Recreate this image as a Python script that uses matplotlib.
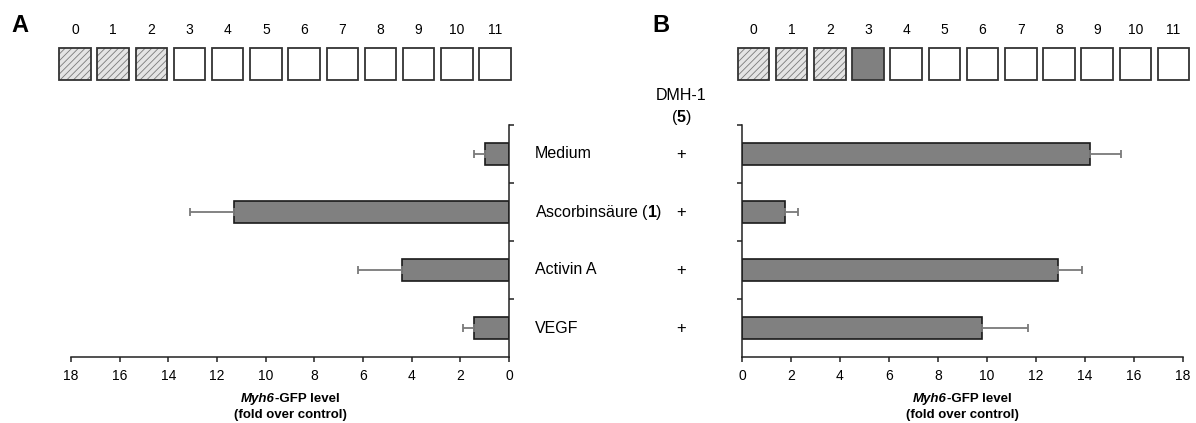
import matplotlib
matplotlib.use('Agg')
import matplotlib.pyplot as plt
from matplotlib.offsetbox import TextArea, HPacker, AnnotationBbox
from matplotlib.transforms import blended_transform_factory

plt.rcParams['font.family'] = ['Liberation Sans', 'DejaVu Sans']
plt.rcParams['mathtext.fontset'] = 'custom'
plt.rcParams['mathtext.rm'] = 'Liberation Sans'
plt.rcParams['mathtext.bf'] = 'Liberation Sans:bold'
plt.rcParams['mathtext.it'] = 'Liberation Sans:italic'
plt.rcParams['hatch.linewidth'] = 0.6

# data
categories = ['Medium', r'Ascorbinsäure ($\mathbf{1}$)', 'Activin A', 'VEGF']
fold_a = [1.0, 11.3, 4.4, 1.43]
err_a = [0.44, 1.8, 1.8, 0.46]
fold_b = [14.2, 1.75, 12.9, 9.8]
err_b = [1.25, 0.52, 0.97, 1.88]
dmh1 = ['+', '+', '+', '+']
stages = list(range(12))
stage_a = ['pre'] * 3 + ['none'] * 9
stage_b = ['pre'] * 3 + ['dmh'] + ['none'] * 8
x_ticks = list(range(0, 19, 2))

W, H = 1196, 423
fig = plt.figure(figsize=(W / 100, H / 100), dpi=100)


def px_axes(left, top, right, bottom):
    return fig.add_axes([left / W, 1 - bottom / H, (right - left) / W, (bottom - top) / H])


def draw_stages(ax, states):
    for i, s in zip(stages, states):
        if s == 'pre':
            ax.bar(i, 1, width=0.825, color='#e4e4e4', edgecolor='#7a7a7a',
                   hatch='/////', linewidth=0)
        elif s == 'dmh':
            ax.bar(i, 1, width=0.825, color='#808080', linewidth=0)
        box = ax.bar(i, 1, width=0.825, fill=False, edgecolor='#333333', linewidth=1.3)
        for p in box:
            p.set_clip_on(False)
        ax.text(i, 1.56, str(i), ha='center', va='center', fontsize=10)
    ax.set_xlim(-0.5, 11.5)
    ax.set_ylim(0, 1)
    ax.axis('off')


def draw_bars(ax, values, errs, side):
    ypos = list(range(len(values)))
    ax.barh(ypos, values, height=0.37, color='#808080', edgecolor='#1a1a1a', linewidth=1.2,
            xerr=[[0] * len(errs), errs],
            error_kw=dict(ecolor='#7a7a7a', elinewidth=1.3, capsize=3, capthick=1.3))
    ax.set_ylim(3.5, -0.5)
    ax.set_yticks([-0.5, 0.5, 1.5, 2.5])
    ax.set_yticklabels([])
    ax.set_xticks(x_ticks)
    ax.spines['top'].set_visible(False)
    if side == 'right':
        ax.set_xlim(18, 0)
        ax.spines['left'].set_visible(False)
        ax.yaxis.tick_right()
    else:
        ax.set_xlim(0, 18)
        ax.spines['right'].set_visible(False)
    for sp in ax.spines.values():
        sp.set_linewidth(1.1)
        sp.set_color('#222222')
    ax.tick_params(axis='both', direction='out', length=3.6, width=1.1, color='#222222')
    ax.tick_params(axis='x', labelsize=10, pad=5)

    t1 = TextArea('Myh6', textprops=dict(style='italic', weight='bold', size=9.5))
    t2 = TextArea('-GFP level', textprops=dict(weight='bold', size=9.5))
    line1 = HPacker(children=[t1, t2], pad=0, sep=0)
    ab = AnnotationBbox(line1, (0.5, -42 / 232), xycoords='axes fraction',
                        frameon=False, box_alignment=(0.5, 0.5))
    ax.add_artist(ab)
    ax.text(0.5, -58 / 232, '(fold over control)', transform=ax.transAxes,
            ha='center', va='center', fontsize=9.5, fontweight='bold')


# stage boxes
box_a = px_axes(55.9, 48, 514.1, 80)
draw_stages(box_a, stage_a)
box_b = px_axes(734.4, 48, 1192.6, 80)
draw_stages(box_b, stage_b)

# bar panels
ax_a = px_axes(71, 125, 509, 357)
draw_bars(ax_a, fold_a, err_a, 'right')
ax_b = px_axes(742, 125, 1183, 357)
draw_bars(ax_b, fold_b, err_b, 'left')

# category labels and DMH-1 column
trans = blended_transform_factory(fig.transFigure, ax_a.transData)
for y, (lab, mark) in enumerate(zip(categories, dmh1)):
    ax_a.text(535 / W, y, lab, transform=trans, ha='left', va='center', fontsize=11.5)
    ax_a.text(681 / W, y, mark, transform=trans, ha='center', va='center', fontsize=12)
fig.text(681 / W, 1 - 95 / H, 'DMH-1', ha='center', va='center', fontsize=11.5)
fig.text(681 / W, 1 - 117 / H, r'($\mathbf{5}$)', ha='center', va='center', fontsize=11.5)

# panel letters
fig.text(20 / W, 1 - 25.5 / H, 'A', ha='center', va='center', fontsize=17, fontweight='bold')
fig.text(661 / W, 1 - 25.5 / H, 'B', ha='center', va='center', fontsize=17, fontweight='bold')

fig.savefig('out.png', dpi=100)
